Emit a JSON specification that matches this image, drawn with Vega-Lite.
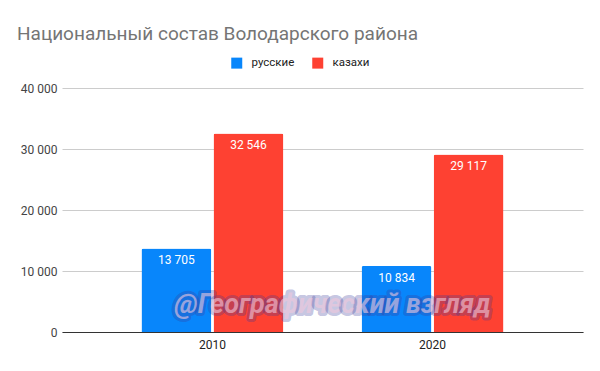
{
  "$schema": "https://vega.github.io/schema/vega-lite/v6.json",
  "width": 521,
  "height": 244,
  "autosize": "none",
  "padding": {"left": 62, "top": 88, "right": 17, "bottom": 39},
  "config": {
    "view": {"stroke": null},
    "font": "Roboto",
    "locale": {"number": {"decimal": ",", "thousands": " ", "grouping": [3], "currency": ["", ""]}}
  },
  "title": {
    "text": "Национальный состав Володарского района",
    "anchor": "start",
    "frame": "group",
    "dx": -45,
    "fontSize": 19,
    "font": "Roboto",
    "fontWeight": "normal",
    "color": "#757575",
    "offset": 13
  },
  "data": {
    "values": [
      {"year": "2010", "group": "русские", "value": 13705},
      {"year": "2010", "group": "казахи", "value": 32546},
      {"year": "2020", "group": "русские", "value": 10834},
      {"year": "2020", "group": "казахи", "value": 29117}
    ]
  },
  "encoding": {
    "x": {
      "field": "year",
      "type": "nominal",
      "scale": {"paddingInner": 0.355, "paddingOuter": 0.361},
      "axis": {
        "title": null,
        "labelAngle": 0,
        "ticks": false,
        "domainColor": "#333333",
        "labelColor": "#222222",
        "labelFontSize": 12,
        "labelPadding": 7,
        "grid": false
      }
    }
  },
  "layer": [
    {
      "mark": {"type": "bar", "cornerRadiusTopLeft": 2, "cornerRadiusTopRight": 2},
      "encoding": {
        "xOffset": {"field": "group", "type": "nominal", "sort": ["русские", "казахи"], "scale": {"paddingInner": 0.03}},
        "y": {
          "field": "value",
          "type": "quantitative",
          "scale": {"domain": [0, 40000]},
          "axis": {
            "title": null,
            "values": [0, 10000, 20000, 30000, 40000],
            "format": ",d",
            "domain": false,
            "ticks": false,
            "gridColor": "#cccccc",
            "labelColor": "#444444",
            "labelFontSize": 12,
            "labelPadding": 5
          }
        },
        "color": {
          "field": "group",
          "type": "nominal",
          "sort": ["русские", "казахи"],
          "scale": {"domain": ["русские", "казахи"], "range": ["#0886fb", "#fe4132"]},
          "legend": {
            "title": null,
            "orient": "none",
            "direction": "horizontal",
            "legendX": 169,
            "legendY": -31,
            "symbolType": "square",
            "symbolSize": 121,
            "symbolStrokeWidth": 0,
            "labelFontSize": 11.5,
            "labelColor": "#222222",
            "labelOffset": 9,
            "columnPadding": 17
          }
        }
      }
    },
    {
      "mark": {"type": "text", "baseline": "top", "dy": 7, "color": "white", "fontSize": 12},
      "encoding": {
        "xOffset": {"field": "group", "type": "nominal", "sort": ["русские", "казахи"]},
        "y": {"field": "value", "type": "quantitative"},
        "text": {"field": "value", "type": "quantitative", "format": ",d"}
      }
    },
    {
      "data": {"values": [{"label": "@Географический взгляд"}]},
      "mark": {"type": "text", "fontSize": 27, "fontStyle": "italic", "fontWeight": "bold", "fillOpacity": 0, "stroke": "#3a3a9a", "strokeOpacity": 0.3, "strokeWidth": 6, "strokeJoin": "round", "dx": -100, "dy": 3},
      "encoding": {
        "x": {"datum": "2020"},
        "y": {"datum": 5000},
        "text": {"field": "label"}
      }
    },
    {
      "data": {"values": [{"label": "@Географический взгляд"}]},
      "mark": {"type": "text", "fontSize": 27, "fontStyle": "italic", "fontWeight": "bold", "fill": "#f0c8dc", "fillOpacity": 0.6, "dx": -100, "dy": 3},
      "encoding": {
        "x": {"datum": "2020"},
        "y": {"datum": 5000},
        "text": {"field": "label"}
      }
    }
  ]
}
